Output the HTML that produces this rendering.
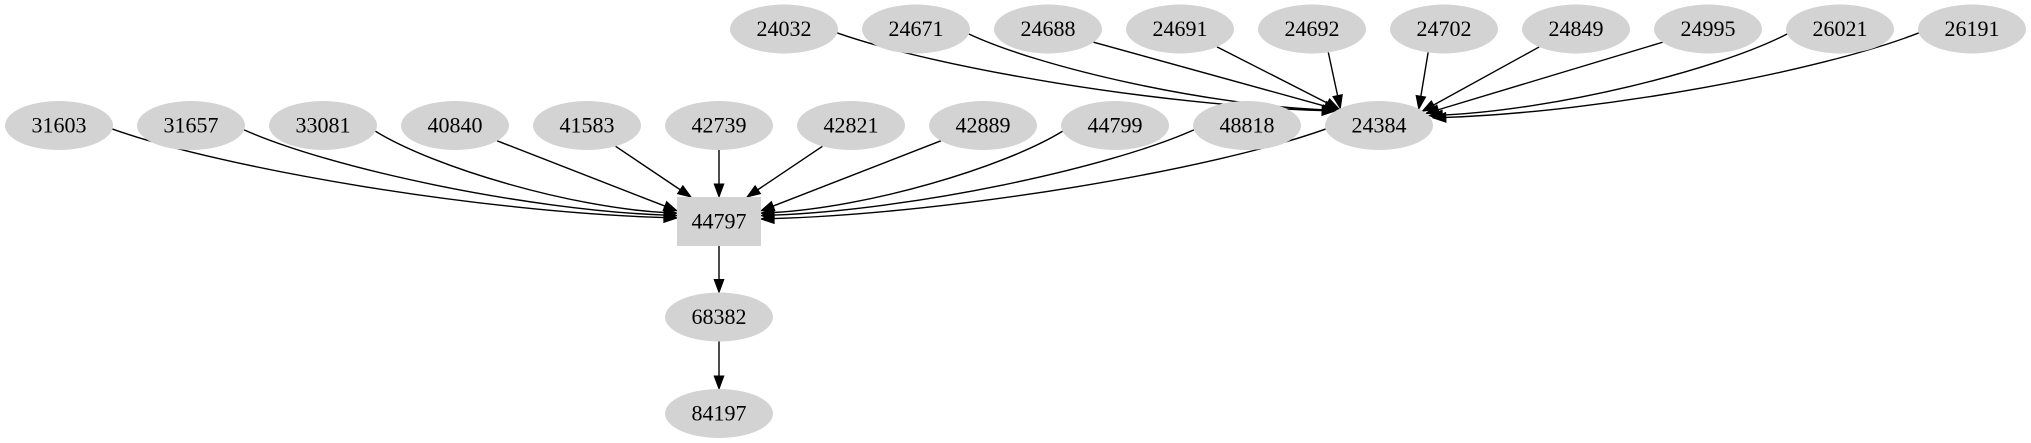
<!DOCTYPE html>
<html><head><meta charset="utf-8"><style>
html,body{margin:0;padding:0;background:#fff;}
svg{display:block;}
text{font-family:"Liberation Serif",serif;font-size:22px;fill:#000;}
</style></head><body>
<svg id="g" width="2031" height="443" viewBox="0 0 2031 443" xmlns="http://www.w3.org/2000/svg">
<g id="edges" fill="none" stroke="#000" stroke-width="1.4"></g>
<g id="nodes"></g>
</svg>
<script>
(function(){
var NS="http://www.w3.org/2000/svg";
var E=document.getElementById('edges'),N=document.getElementById('nodes');
var RX=54,RY=24.5;
function el(t,a,p){var e=document.createElementNS(NS,t);for(var k in a)e.setAttribute(k,a[k]);(p||N).appendChild(e);return e;}
function node(x,y,label,box){
 if(box) el('rect',{x:x-42,y:y-24.5,width:84,height:49,fill:'#d3d3d3'});
 else el('ellipse',{cx:x,cy:y,rx:RX,ry:RY,fill:'#d3d3d3'});
 var t=el('text',{x:x,y:y+7,'text-anchor':'middle'});t.textContent=label;
}
function arrow(px,py,ex,ey){
 var dx=ex-px,dy=ey-py,l=Math.hypot(dx,dy);dx/=l;dy/=l;
 var L=13,W=4.8,bx=ex-dx*L,by=ey-dy*L;
 el('polygon',{points:ex+','+ey+' '+(bx-dy*W)+','+(by+dx*W)+' '+(bx+dy*W)+','+(by-dx*W),fill:'#000',stroke:'#000','stroke-width':1},E);
 return [bx,by];
}
function edge(sx,sy,ex,ey,curve){
 var dx=ex-sx,dy=ey-sy;
 if(!curve){var b=arrow(sx,sy,ex,ey);el('path',{d:'M'+sx+','+sy+'L'+b[0]+','+b[1]},E);return;}
 var c1x=sx+dx*0.2,c1y=sy+dy*0.45,c2x=sx+dx*0.65,c2y=sy+dy*0.93;
 var b2=arrow(c2x,c2y,ex,ey);
 el('path',{d:'M'+sx+','+sy+'C'+c1x+','+c1y+' '+c2x+','+c2y+' '+b2[0]+','+b2[1]},E);
}
function startPt(x,y,tx,ty,f){
 var a=Math.atan2((ty-y)/RY,(tx-x)/RX*f);
 return [x+RX*Math.cos(a),y+RY*Math.sin(a)];
}
var topRow=['24032','24671','24688','24691','24692','24702','24849','24995','26021','26191'];
var T=[1379,125];
topRow.forEach(function(l,i){
 var x=784+132*i,y=29;
 var d=Math.abs(x-T[0]);
 var far=d>350;
 var s=startPt(x,y,T[0],T[1],far?2.2:1);
 var ex,ey,k;
 if(x<T[0]){ k=Math.min((T[0]-x)/600,1); ex=T[0]-38-6*k; ey=T[1]-17+3*k;}
 else { k=Math.min((x-T[0])/600,1); ex=T[0]+38+16*k; ey=T[1]-17+10*k;}
 edge(s[0],s[1],ex,ey,far);
});
var row=['31603','31657','33081','40840','41583','42739','42821','42889','44799','48818'];
var B=[719,221.5];
row.forEach(function(l,i){
 var x=59+132*i,y=125.5;
 var d=Math.abs(x-B[0]);
 var far=d>300;
 var s=startPt(x,y,B[0],B[1],far?2.2:1);
 var ex,ey,k;
 if(x===B[0]){ex=B[0];ey=197;s=[x,y+RY];}
 else if(d<200){ex=x<B[0]?B[0]-28:B[0]+28;ey=197;}
 else if(x<B[0]){k=Math.min((B[0]-x)/660,1);ex=677;ey=206+12*k;}
 else {k=Math.min((x-B[0])/660,1);ex=761;ey=206+12*k;}
 edge(s[0],s[1],ex,ey,far);
});
var s0=startPt(1379,125.5,719,221.5,2.2);
edge(s0[0],s0[1],761,219,true);
edge(719,246,719,292.5,false);
edge(719,341.5,719,389,false);
topRow.forEach(function(l,i){node(784+132*i,29,l);});
row.forEach(function(l,i){node(59+132*i,125.5,l);});
node(1379,125.5,'24384');
node(719,221.5,'44797',true);
node(719,317,'68382');
node(719,413.5,'84197');
})();
</script>
</body></html>
